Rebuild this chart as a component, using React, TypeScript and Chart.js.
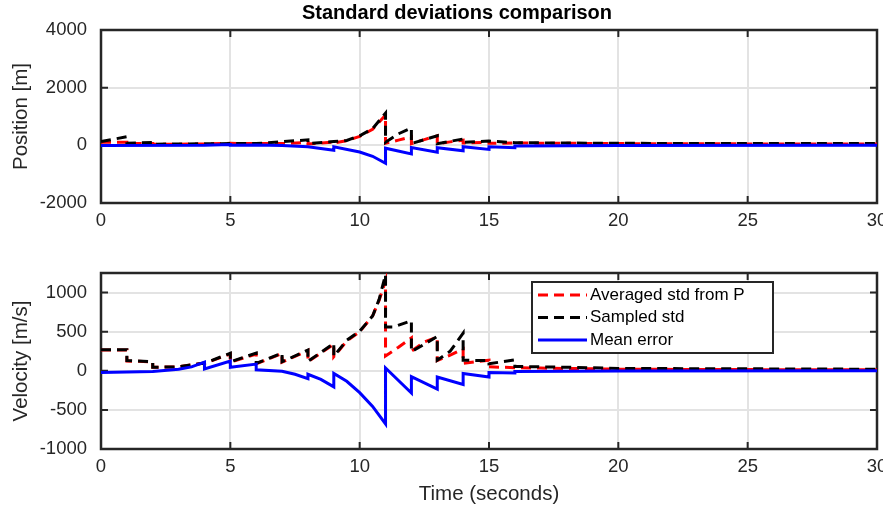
import React, { useEffect, useRef } from "react";
import { Chart, registerables } from "chart.js";

Chart.register(...registerables);

// ---------- data ----------
const xTicks = [0, 5, 10, 15, 20, 25, 30];
const posTicks = [-2000, 0, 2000, 4000];
const velTicks = [-1000, -500, 0, 500, 1000];

const seriesLabels = ["Averaged std from P", "Sampled std", "Mean error"];

// Position subplot
const posRedT = [0, 1, 1, 2, 2, 3, 4, 5, 6, 7, 8, 8, 9, 9, 9.5, 10, 10.5, 11, 11, 11.5, 12, 12, 12.5, 13, 13, 13.5, 14, 14, 15, 15, 16, 18, 20, 25, 30];
const posRedV = [110, 110, 60, 60, 40, 40, 50, 70, 60, 60, 100, 50, 110, 80, 160, 310, 560, 1050, 70, 180, 300, 60, 200, 330, 60, 120, 180, 80, 110, 70, 80, 70, 60, 50, 50];

const posBlackT = [0, 1, 1, 2, 2, 5, 6, 8, 8, 9, 9.5, 10, 10.5, 11, 11, 11.5, 12, 12, 13, 13, 14, 14, 15, 16, 20, 25, 30];
const posBlackV = [130, 300, 70, 100, 40, 60, 60, 190, 60, 130, 170, 330, 580, 1120, 110, 400, 600, 60, 330, 60, 220, 100, 150, 90, 70, 60, 60];

const posBlueT = [0, 4, 5, 5, 6, 7, 8, 9, 9, 10, 10.5, 11, 11, 12, 12, 13, 13, 14, 14, 15, 15, 16, 16, 20, 30];
const posBlueV = [-10, 0, 30, 0, 10, -10, -50, -170, -50, -230, -380, -620, -100, -300, -80, -240, -80, -190, -50, -140, -50, -80, -20, -10, 0];

// Velocity subplot
const velRedT = [0, 1, 1, 2, 2, 3, 4, 4, 5, 5, 6, 6, 7, 7, 8, 8, 9, 9, 9.5, 10, 10.5, 10.75, 11, 11, 11.5, 12, 12, 12.5, 13, 13, 13.5, 14, 14, 15, 15, 16, 17, 18, 20, 25, 30];
const velRedV = [265, 265, 125, 115, 45, 50, 100, 95, 215, 110, 215, 90, 220, 110, 260, 115, 340, 180, 380, 500, 700, 900, 1150, 190, 300, 420, 250, 370, 430, 130, 200, 280, 95, 135, 50, 40, 35, 30, 20, 15, 12];

const velBlackT = [0, 1, 1, 2, 2, 3, 4, 4, 5, 5, 6, 6, 7, 7, 8, 8, 9, 9, 9.5, 10, 10.5, 10.75, 11, 11, 11.3, 12, 12, 12.5, 13, 13, 13.5, 14, 14, 15, 15, 16, 16, 17, 18, 20, 25, 30];
const velBlackV = [270, 270, 130, 115, 45, 50, 100, 95, 225, 115, 225, 95, 225, 115, 265, 120, 350, 185, 390, 505, 700, 910, 1230, 560, 560, 640, 245, 340, 440, 135, 250, 480, 135, 130, 90, 140, 55, 50, 45, 30, 25, 20];

const velBlueT = [0, 1, 2, 3, 3.5, 4, 4, 5, 5, 6, 6, 7, 7.5, 8, 8, 8.5, 9, 9, 9.5, 10, 10.5, 11, 11, 12, 12, 13, 13, 14, 14, 15, 15, 16, 16, 20, 30];
const velBlueV = [-22, -17, -8, 20, 50, 110, 22, 125, 45, 85, 13, -5, -45, -100, -45, -110, -205, -35, -135, -280, -455, -680, 35, -285, -75, -235, -80, -175, -35, -80, -22, -28, -8, -3, 0];

// ---------- styles ----------
const FONT = "'Liberation Sans', Arial, Helvetica, sans-serif";
const TXT = "#262626";
const GRID = "#e3e3e3";
const COLORS = ["#ff0000", "#000000", "#0000ff"];
const DASH = [10, 6];

const pts = (t: number[], v: number[]) => t.map((x, i) => ({ x, y: v[i] }));

function datasets(series: [number[], number[]][]) {
  return series.map(([t, v], i) => ({
    label: seriesLabels[i],
    data: pts(t, v),
    borderColor: COLORS[i],
    backgroundColor: COLORS[i],
    borderWidth: 3,
    borderDash: i === 2 ? [] : DASH,
    pointRadius: 0,
    tension: 0,
    fill: false,
    order: 3 - i,
  }));
}

const framePlugin = {
  id: "frame",
  beforeDatasetsDraw(chart: any) {
    const { ctx, chartArea: a, scales } = chart;
    ctx.save();
    ctx.strokeStyle = TXT;
    ctx.lineWidth = 2;
    const tl = 7;
    ctx.beginPath();
    scales.x.ticks.forEach((t: any) => {
      const p = scales.x.getPixelForValue(t.value);
      ctx.moveTo(p, a.bottom);
      ctx.lineTo(p, a.bottom - tl);
      ctx.moveTo(p, a.top);
      ctx.lineTo(p, a.top + tl);
    });
    scales.y.ticks.forEach((t: any) => {
      const p = scales.y.getPixelForValue(t.value);
      ctx.moveTo(a.left, p);
      ctx.lineTo(a.left + tl, p);
      ctx.moveTo(a.right, p);
      ctx.lineTo(a.right - tl, p);
    });
    ctx.stroke();
    ctx.lineWidth = 2.5;
    ctx.strokeRect(a.left, a.top, a.right - a.left, a.bottom - a.top);
    ctx.restore();
  },
};

const titlePlugin = {
  id: "maintitle",
  afterDraw(chart: any) {
    const { ctx } = chart;
    ctx.save();
    ctx.fillStyle = "#000";
    ctx.font = `bold 20px ${FONT}`;
    ctx.textAlign = "center";
    ctx.textBaseline = "alphabetic";
    ctx.fillText("Standard deviations comparison", 457, 19);
    ctx.restore();
  },
};

const legendPlugin = {
  id: "boxlegend",
  afterDraw(chart: any) {
    const { ctx, chartArea: a } = chart;
    const left = a.left + 431;
    const top = a.top + 9;
    const w = 241;
    const h = 71;
    ctx.save();
    ctx.fillStyle = "#fff";
    ctx.fillRect(left, top, w, h);
    ctx.strokeStyle = TXT;
    ctx.lineWidth = 2;
    ctx.strokeRect(left, top, w, h);
    chart.data.datasets.forEach((ds: any, i: number) => {
      const y = top + 13 + i * 22.5;
      ctx.beginPath();
      ctx.setLineDash(ds.borderDash || []);
      ctx.strokeStyle = ds.borderColor;
      ctx.lineWidth = 3;
      ctx.moveTo(left + 6, y);
      ctx.lineTo(left + 55, y);
      ctx.stroke();
      ctx.setLineDash([]);
      ctx.fillStyle = "#000";
      ctx.font = `17px ${FONT}`;
      ctx.textAlign = "left";
      ctx.textBaseline = "middle";
      ctx.fillText(ds.label, left + 58, y);
    });
    ctx.restore();
  },
};

function makeConfig(kind: "pos" | "vel"): any {
  const isPos = kind === "pos";
  const series: [number[], number[]][] = isPos
    ? [[posRedT, posRedV], [posBlackT, posBlackV], [posBlueT, posBlueV]]
    : [[velRedT, velRedV], [velBlackT, velBlackV], [velBlueT, velBlueV]];
  const yTicks = isPos ? posTicks : velTicks;
  return {
    type: "line",
    data: { datasets: datasets(series) },
    plugins: isPos ? [framePlugin, titlePlugin] : [framePlugin, legendPlugin],
    options: {
      responsive: false,
      animation: false,
      events: [],
      layout: { padding: { top: isPos ? 30 : 33, right: 6, left: 0, bottom: 0 } },
      plugins: { legend: { display: false }, title: { display: false }, tooltip: { enabled: false } },
      scales: {
        x: {
          type: "linear",
          min: 0,
          max: 30,
          afterBuildTicks: (s: any) => {
            s.ticks = xTicks.map((v) => ({ value: v }));
          },
          afterFit: (s: any) => {
            s.height = isPos ? 37 : 62;
            s.paddingLeft = 0;
            s.paddingRight = 0;
          },
          grid: { color: GRID, lineWidth: 2, drawTicks: false },
          border: { display: false },
          ticks: {
            color: TXT,
            font: { family: FONT, size: 18.5 },
            padding: 7,
            maxRotation: 0,
            autoSkip: false,
            callback: (v: any) => String(v),
          },
          title: {
            display: !isPos,
            text: "Time (seconds)",
            color: TXT,
            font: { family: FONT, size: 20.5 },
            padding: { top: 0, bottom: 4 },
          },
        },
        y: {
          type: "linear",
          min: isPos ? -2000 : -1000,
          max: isPos ? 4000 : 1250,
          afterBuildTicks: (s: any) => {
            s.ticks = yTicks.map((v) => ({ value: v }));
          },
          afterFit: (s: any) => {
            s.width = 101;
            s.paddingTop = 0;
            s.paddingBottom = 0;
          },
          grid: { color: GRID, lineWidth: 2, drawTicks: false },
          border: { display: false },
          ticks: {
            color: TXT,
            font: { family: FONT, size: 18.5 },
            padding: 14,
            autoSkip: false,
            callback: (v: any) => String(v),
          },
          title: {
            display: true,
            text: isPos ? "Position [m]" : "Velocity [m/s]",
            color: TXT,
            font: { family: FONT, size: 20.5 },
            padding: { top: 9, bottom: 0 },
          },
        },
      },
    },
  };
}

export default function App() {
  const topRef = useRef<HTMLCanvasElement | null>(null);
  const botRef = useRef<HTMLCanvasElement | null>(null);

  useEffect(() => {
    const c1 = new Chart(topRef.current as HTMLCanvasElement, makeConfig("pos"));
    const c2 = new Chart(botRef.current as HTMLCanvasElement, makeConfig("vel"));
    return () => {
      c1.destroy();
      c2.destroy();
    };
  }, []);

  return (
    <div style={{ position: "fixed", left: 0, top: 0, width: 883, height: 511, background: "#fff" }}>
      <canvas ref={topRef} width={883} height={240} style={{ position: "absolute", left: 0, top: 0, display: "block" }} />
      <canvas ref={botRef} width={883} height={271} style={{ position: "absolute", left: 0, top: 240, display: "block" }} />
    </div>
  );
}
